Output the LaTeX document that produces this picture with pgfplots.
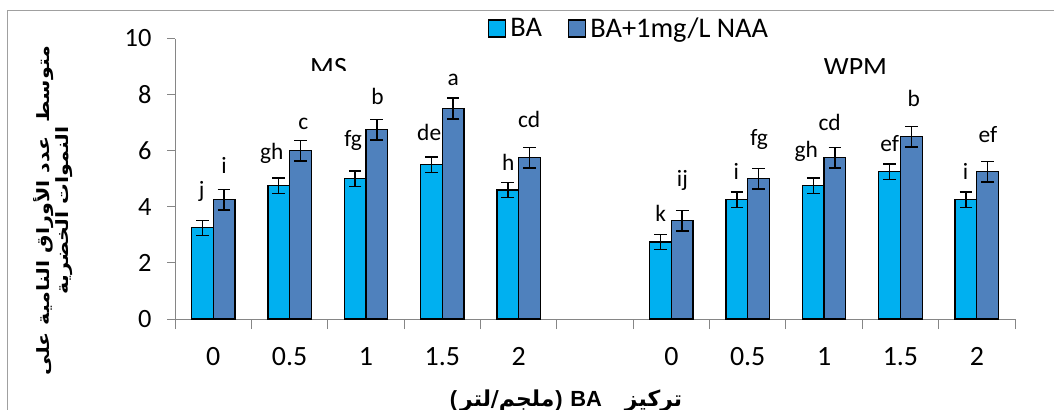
\documentclass[border=0pt]{standalone}
\usepackage{pgfplots}
\pgfplotsset{compat=1.18}
\usepackage{fontspec}
\setmainfont{Carlito}
\newfontfamily\arabicfont[Script=Arabic]{DejaVu Sans}
\newfontfamily\arialfont{Liberation Sans}
\TeXXeTstate=1

\definecolor{baC}{RGB}{0,176,240}
\definecolor{naaC}{RGB}{79,129,189}
\definecolor{axC}{RGB}{134,134,134}
\definecolor{frameC}{RGB}{160,160,160}

\newcommand{\lat}[1]{{\arialfont\bfseries #1}}

\begin{document}
\begin{tikzpicture}
\path[use as bounding box] (0,0) rectangle (1054bp,-410bp);
\draw[frameC, line width=1bp] (7.5bp,-420bp) -- (7.5bp,-10bp) -- (1060bp,-10bp);

\begin{axis}[
  at={(175bp,-319bp)}, anchor=south west,
  width=840bp, height=280.5bp, scale only axis,
  xmin=-0.5, xmax=10.5, ymin=0, ymax=10,
  ybar, bar width=0.284,
  axis lines=left,
  axis line style={-, draw=axC, line width=1bp},
  ytick={0,2,...,10},
  xtick={0,1,2,3,4,6,7,8,9,10},
  xticklabels={0,0.5,1,1.5,2,0,0.5,1,1.5,2},
  minor xtick={-0.5,0.5,...,10.5},
  tick align=outside,
  tick style={draw=axC, line width=1bp},
  major x tick style={draw=none},
  major tick length=8bp, minor tick length=10bp,
  /pgf/number format/assume math mode=true,
  yticklabel style={xshift=-12bp, font=\fontsize{26.5}{31}\selectfont},
  xticklabel style={yshift=-17bp, font=\fontsize{28}{33}\selectfont},
  xlabel={\lat{(}\kern3bp ملجم/لتر\kern1bp\lat{)}\ \lat{BA}\ \ \ تركيز},
  every axis x label/.style={at={(axis description cs:0.4655,-0.29)}, anchor=center,
    font=\arabicfont\bfseries\fontsize{22}{26}\selectfont},
  ylabel={\beginR متوسط\ \ عدد الأوراق النامية على\endR\\\beginR النموات الخضرية\endR},
  every axis y label/.style={at={(axis description cs:-0.1452,0.386)}, rotate=90, xscale=1.22,
    anchor=center, align=center, font=\arabicfont\bfseries\fontsize{17}{19}\selectfont},
  legend columns=2,
  legend style={draw=none, fill=none, at={(0.3726,1.0357)}, anchor=west,
    font=\fontsize{28.5}{33}\selectfont, inner sep=0pt,
    nodes={inner xsep=4bp, inner ysep=0pt},
    /tikz/every even column/.append style={column sep=22bp}},
  legend image code/.code={\draw[#1, draw=black, line width=1.3bp] (0bp,-8.5bp) rectangle (17bp,8.5bp);},
]

\addplot[bar shift=-0.142, fill=baC, draw=black, line width=1.3bp,
  error bars/.cd, y dir=both, y explicit,
  error bar style={line width=1.5bp, black},
  error mark options={rotate=90, mark size=6.3bp, line width=1.5bp, black}]
coordinates {
  (0,3.25) +- (0,0.27)
  (1,4.75) +- (0,0.27)
  (2,5.00) +- (0,0.27)
  (3,5.50) +- (0,0.27)
  (4,4.60) +- (0,0.27)
  (6,2.75) +- (0,0.27)
  (7,4.25) +- (0,0.27)
  (8,4.75) +- (0,0.27)
  (9,5.25) +- (0,0.27)
  (10,4.25) +- (0,0.27)
};

\addplot[bar shift=0.142, fill=naaC, draw=black, line width=1.3bp,
  error bars/.cd, y dir=both, y explicit,
  error bar style={line width=1.5bp, black},
  error mark options={rotate=90, mark size=6.3bp, line width=1.5bp, black}]
coordinates {
  (0,4.25) +- (0,0.37)
  (1,6.00) +- (0,0.37)
  (2,6.75) +- (0,0.37)
  (3,7.50) +- (0,0.37)
  (4,5.75) +- (0,0.37)
  (6,3.50) +- (0,0.37)
  (7,5.00) +- (0,0.37)
  (8,5.75) +- (0,0.37)
  (9,6.50) +- (0,0.37)
  (10,5.25) +- (0,0.37)
};

\legend{BA, BA+1mg/L NAA}

% significance letters
\addplot[bar shift=0, draw=none, fill=none, forget plot, nodes near coords, point meta=explicit symbolic,
  nodes near coords style={anchor=base, inner sep=0pt, font=\fontsize{23.5}{28}\selectfont}]
coordinates {
  (-0.151,4.34) [j]
  (0.141,5.17) [i]
  (0.766,5.70) [gh]
  (1.179,6.76) [c]
  (1.834,6.16) [fg]
  (2.153,7.63) [b]
  (2.829,6.38) [de]
  (3.143,8.34) [a]
  (3.863,5.29) [h]
  (4.137,6.83) [cd]
  (5.861,3.47) [k]
  (6.145,4.73) [ij]
  (6.852,4.96) [i]
  (7.148,6.18) [fg]
  (7.768,5.76) [gh]
  (8.073,6.71) [cd]
  (8.859,5.96) [ef]
  (9.173,7.59) [b]
  (9.853,4.96) [i]
  (10.145,6.29) [ef]
};
\end{axis}

% group titles, cut off at the bottom as in the original
\begin{scope}
  \clip (290bp,-50bp) rectangle (370bp,-70bp);
  \node[anchor=base, inner sep=0pt, font=\fontsize{28}{33}\selectfont] at (328.5bp,-76bp) {MS};
\end{scope}
\begin{scope}
  \clip (810bp,-50bp) rectangle (900bp,-73bp);
  \node[anchor=base, inner sep=0pt, font=\fontsize{28}{33}\selectfont] at (855.5bp,-76bp) {WPM};
\end{scope}
\end{tikzpicture}
\end{document}
